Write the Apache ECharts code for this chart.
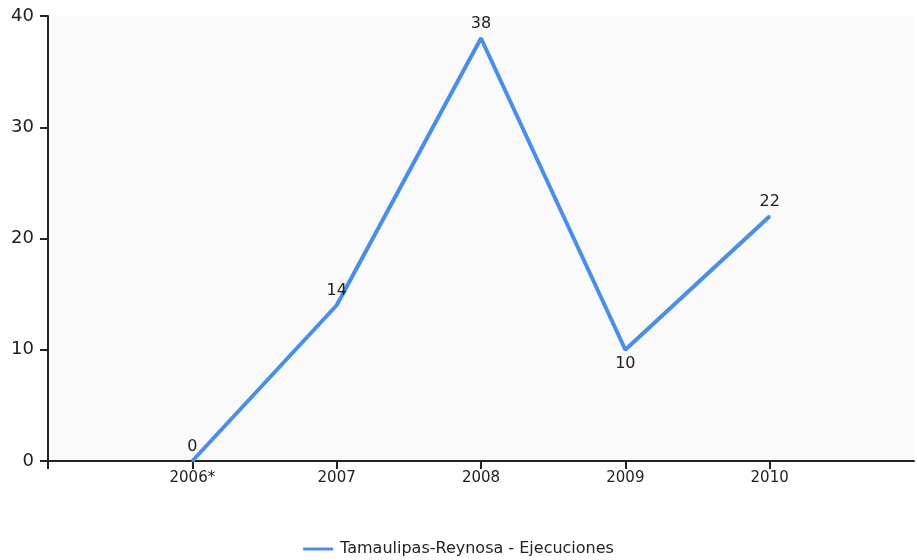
<!DOCTYPE html>
<html>
<head>
<meta charset="utf-8">
<script src="https://cdn.jsdelivr.net/npm/echarts@6/dist/echarts.min.js"></script>
<style>
  html, body { margin: 0; padding: 0; background: #fff; }
  #main { width: 917px; height: 560px; }
</style>
</head>
<body>
<div id="main"></div>
<script>
const years = ['2006*', '2007', '2008', '2009', '2010'];
const ejecuciones = [0, 14, 38, 10, 22];
const yTicks = [0, 10, 20, 30, 40];
const seriesName = 'Tamaulipas-Reynosa - Ejecuciones';
const lineColor = '#4a8eea';

// one empty slot on each side, like the original axis
const cats = [''].concat(years, ['']);
const vals = ['-'].concat(ejecuciones, ['-']);

const chart = echarts.init(document.getElementById('main'));
chart.setOption({
    animation: false,
    textStyle: { fontFamily: 'DejaVu Sans' },
    grid: {
        left: 48, right: 0, top: 16, bottom: 99,
        show: true, backgroundColor: '#fafafa', borderWidth: 0
    },
    legend: {
        bottom: -2,
        left: 'center',
        icon: 'path://M0,0 L40,0 L40,4 L0,4 Z',
        itemWidth: 34, itemHeight: 3, itemGap: 8,
        itemStyle: { color: lineColor, opacity: 1 },
        textStyle: { fontSize: 16, color: '#222' },
        data: [seriesName]
    },
    xAxis: {
        type: 'category',
        data: cats,
        boundaryGap: false,
        axisLine: { lineStyle: { color: '#222', width: 2 } },
        axisTick: {
            length: 8,
            interval: function (i) { return i < cats.length - 1; },
            lineStyle: { color: '#222', width: 2 }
        },
        axisLabel: { fontSize: 15, color: '#222', margin: 10, interval: 0 },
        splitLine: { show: false }
    },
    yAxis: {
        type: 'value',
        min: yTicks[0], max: yTicks[yTicks.length - 1], interval: 10,
        axisLine: { show: true, lineStyle: { color: '#222', width: 2 } },
        axisTick: { show: true, length: 8, lineStyle: { color: '#222', width: 2 } },
        axisLabel: { fontSize: 18, color: '#222', margin: 14 },
        splitLine: { show: false }
    },
    series: [{
        name: seriesName,
        type: 'line',
        data: vals.map(function (v) {
            if (v === 10) return { value: v, label: { position: 'bottom' } };
            return v;
        }),
        symbol: 'circle',
        symbolSize: 2,
        showSymbol: true,
        lineStyle: { color: lineColor, width: 4 },
        itemStyle: { color: lineColor },
        label: { show: true, position: 'top', fontSize: 16, color: '#222', distance: 5 }
    }]
});
</script>
</body>
</html>
